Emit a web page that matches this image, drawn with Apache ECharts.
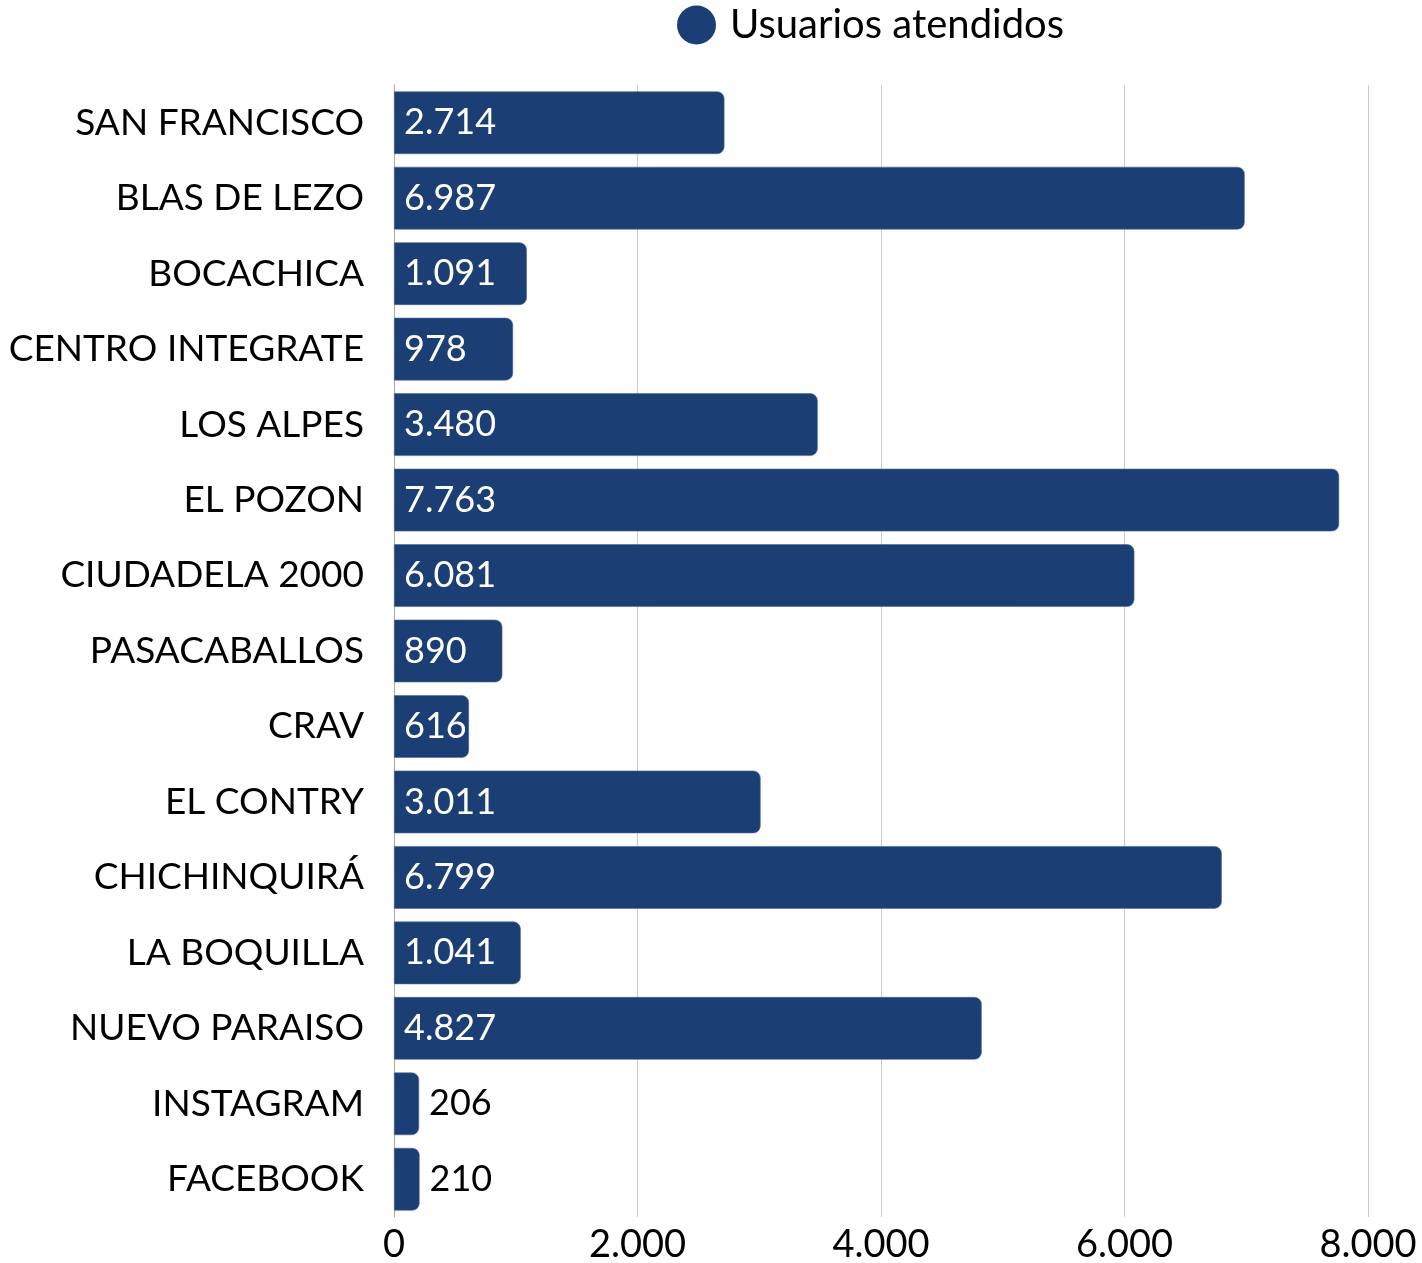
<!DOCTYPE html>
<html>
<head>
<meta charset="utf-8">
<script src="https://cdn.jsdelivr.net/npm/echarts@6/dist/echarts.min.js"></script>
<style>
  html, body { margin: 0; padding: 0; background: #fff; }
  #chart { width: 1422px; height: 1263px; }
</style>
</head>
<body>
<div id="chart"></div>
<script>
  const categories = ['SAN FRANCISCO', 'BLAS DE LEZO', 'BOCACHICA', 'CENTRO INTEGRATE', 'LOS ALPES',
    'EL POZON', 'CIUDADELA 2000', 'PASACABALLOS', 'CRAV', 'EL CONTRY', 'CHICHINQUIRÁ',
    'LA BOQUILLA', 'NUEVO PARAISO', 'INSTAGRAM', 'FACEBOOK'];
  const usuarios = [2714, 6987, 1091, 978, 3480, 7763, 6081, 890, 616, 3011, 6799, 1041, 4827, 206, 210];
  const ticks = [0, 2000, 4000, 6000, 8000];

  const fmt = (v) => String(v).replace(/\B(?=(\d{3})+(?!\d))/g, '.');
  const font = 'Lato, "Noto Sans", sans-serif';
  const blue = '#1b3f75';

  const chart = echarts.init(document.getElementById('chart'));
  chart.setOption({
    animation: false,
    textStyle: { fontFamily: font },
    legend: {
      top: 0,
      left: 672,
      itemWidth: 39,
      itemHeight: 39,
      itemGap: 10,
      icon: 'circle',
      itemStyle: { borderWidth: 0 },
      textStyle: { fontSize: 40, color: '#000', fontFamily: font, padding: [0, 0, 0, 9] },
      data: ['Usuarios atendidos']
    },
    grid: { left: 394, right: 54, top: 85, bottom: 46, containLabel: false, outerBoundsMode: 'none' },
    xAxis: {
      type: 'value',
      min: ticks[0],
      max: ticks[ticks.length - 1],
      interval: 2000,
      axisLabel: {
        fontSize: 38, color: '#000', margin: 9,
        formatter: (v) => fmt(v)
      },
      axisLine: { show: false },
      axisTick: { show: false },
      splitLine: { lineStyle: { color: '#cccccc', width: 1 } }
    },
    yAxis: {
      type: 'category',
      inverse: true,
      data: categories,
      axisLabel: { fontSize: 37, color: '#000', margin: 30 },
      axisLine: { show: true, lineStyle: { color: '#aaaaaa' } },
      axisTick: { show: false }
    },
    series: [{
      name: 'Usuarios atendidos',
      type: 'bar',
      barCategoryGap: '17%',
      itemStyle: { color: blue, borderRadius: [0, 7, 7, 0], borderColor: '#4a6a99', borderWidth: 0.6 },
      label: {
        show: true,
        position: 'insideLeft',
        distance: 10,
        color: '#fff',
        fontSize: 36,
        formatter: (p) => fmt(p.value)
      },
      data: usuarios.map(v => v < 400
        ? { value: v, label: { position: 'right', color: '#000', distance: 10 } }
        : v)
    }]
  });
</script>
</body>
</html>
